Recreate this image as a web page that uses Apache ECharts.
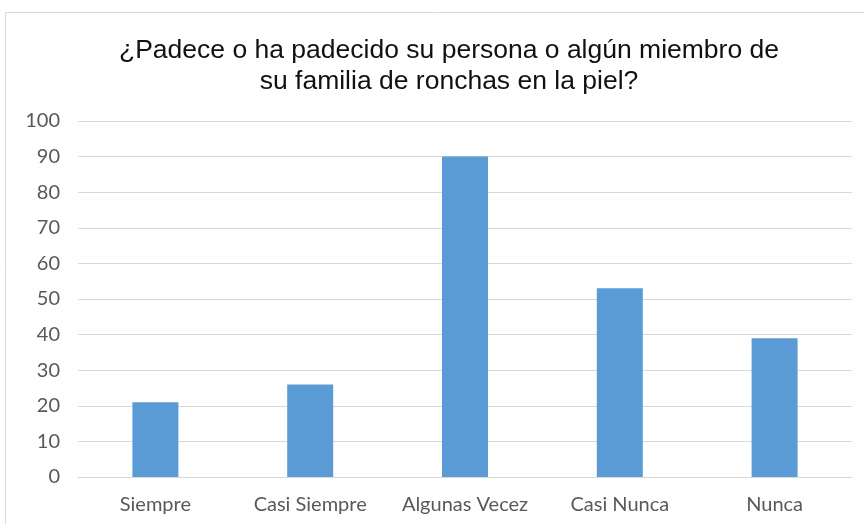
<!DOCTYPE html>
<html>
<head>
<meta charset="utf-8">
<style>
  html, body { margin: 0; padding: 0; background: #fff; }
  #chart { width: 864px; height: 524px; }
</style>
<script src="https://cdn.jsdelivr.net/npm/echarts@6/dist/echarts.min.js"></script>
</head>
<body>
<div id="chart"></div>
<script>
// Survey answers and respondent counts
const categories = ['Siempre', 'Casi Siempre', 'Algunas Vecez', 'Casi Nunca', 'Nunca'];
const counts = [21, 26, 90, 53, 39];
const titleLines = ['¿Padece o ha padecido su persona o algún miembro de', 'su familia de ronchas en la piel?'];
const yMin = 0, yMax = 100, yStep = 10;

const chart = echarts.init(document.getElementById('chart'), null, { renderer: 'canvas' });

chart.setOption({
  animation: false,
  backgroundColor: '#ffffff',
  title: {
    text: titleLines.join('\n'),
    left: 444,
    top: 30,
    textAlign: 'center',
    textStyle: {
      fontFamily: 'Liberation Sans, Arial, sans-serif',
      fontSize: 26.5,
      fontWeight: 'normal',
      color: '#111111',
      lineHeight: 31
    }
  },
  graphic: [{
    type: 'rect',
    shape: { x: 5.5, y: 12.5, width: 900, height: 600 },
    style: { fill: 'none', stroke: '#d9d9d9', lineWidth: 1 },
    silent: true,
    z: -1
  }],
  grid: { left: 78, right: 12, top: 121, bottom: 47, containLabel: false },
  xAxis: {
    type: 'category',
    data: categories,
    axisLine: { show: true, lineStyle: { color: '#d9d9d9', width: 1 } },
    axisTick: { show: false },
    axisLabel: {
      interval: 0,
      margin: 18,
      fontFamily: 'Lato, Carlito, sans-serif',
      fontSize: 20,
      color: '#595959'
    }
  },
  yAxis: {
    type: 'value',
    min: yMin,
    max: yMax,
    interval: yStep,
    axisLine: { show: false },
    axisTick: { show: false },
    splitLine: { lineStyle: { color: '#d9d9d9', width: 1 } },
    axisLabel: {
      margin: 18,
      fontFamily: 'Lato, Carlito, sans-serif',
      fontSize: 20,
      color: '#595959'
    }
  },
  series: [{
    type: 'bar',
    data: counts,
    barWidth: 46,
    itemStyle: { color: '#5b9bd5' }
  }]
});
</script>
</body>
</html>
